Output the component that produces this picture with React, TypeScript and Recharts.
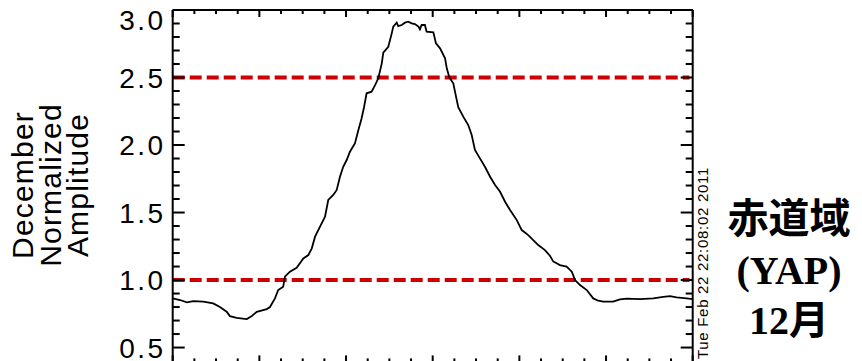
import { LineChart, Line, XAxis, YAxis, ReferenceLine } from 'recharts'

// local time (hours) and normalized amplitude
const HOURS = [
  0.0, 0.34, 0.65, 0.95, 1.41, 1.87, 2.18, 2.49, 2.64, 2.95, 3.42, 3.65, 3.88, 4.34, 4.49, 4.72, 4.87, 5.1, 5.18, 5.41,
  5.72, 6.03, 6.26, 6.42, 6.57, 6.8, 7.03, 7.18, 7.41, 7.57, 7.72, 7.87, 8.03, 8.18, 8.41, 8.57, 8.72, 8.83, 8.95, 9.18,
  9.34, 9.49, 9.65, 9.72, 9.95, 10.11, 10.18, 10.34, 10.41, 10.57, 10.72, 10.87, 11.03, 11.18, 11.34, 11.41, 11.49, 11.64, 11.72, 12.03,
  12.15, 12.34, 12.57, 12.65, 12.77, 12.95, 13.11, 13.18, 13.41, 13.64, 13.8, 13.95, 14.18, 14.41, 14.65, 14.88, 15.11, 15.34, 15.57, 15.88,
  16.11, 16.41, 16.64, 16.87, 17.18, 17.41, 17.57, 17.72, 17.87, 18.18, 18.42, 18.57, 18.8, 19.11, 19.41, 19.64, 19.87, 20.33, 20.64, 20.95,
  21.57, 22.18, 22.64, 22.95, 23.26, 23.72, 24.0,
]
const AMPLITUDE = [
  0.864, 0.852, 0.835, 0.844, 0.84, 0.827, 0.8, 0.765, 0.733, 0.72, 0.711, 0.733, 0.765, 0.785, 0.8, 0.864, 0.926, 0.95, 1.025, 1.062,
  1.09, 1.16, 1.185, 1.235, 1.321, 1.395, 1.469, 1.593, 1.63, 1.667, 1.765, 1.839, 1.889, 1.95, 2.012, 2.111, 2.198, 2.28, 2.383, 2.395,
  2.444, 2.494, 2.605, 2.684, 2.728, 2.827, 2.877, 2.906, 2.881, 2.889, 2.906, 2.913, 2.901, 2.896, 2.877, 2.857, 2.889, 2.889, 2.839, 2.835,
  2.753, 2.716, 2.642, 2.568, 2.501, 2.457, 2.333, 2.28, 2.21, 2.148, 2.074, 1.963, 1.901, 1.839, 1.765, 1.704, 1.654, 1.58, 1.519, 1.444,
  1.37, 1.333, 1.296, 1.259, 1.222, 1.18, 1.136, 1.124, 1.111, 1.1, 1.062, 1.0, 0.963, 0.926, 0.864, 0.847, 0.84, 0.84, 0.857, 0.862,
  0.859, 0.864, 0.876, 0.881, 0.872, 0.864, 0.859,
]

const X_TICKS = [0, 1, 2, 3, 4, 5, 6, 7, 8, 9, 10, 11, 12, 13, 14, 15, 16, 17, 18, 19, 20, 21, 22, 23, 24]
const Y_TICKS = [
  0.5, 0.6, 0.7, 0.8, 0.9, 1.0, 1.1, 1.2, 1.3, 1.4, 1.5, 1.6, 1.7, 1.8, 1.9, 2.0, 2.1, 2.2, 2.3, 2.4, 2.5, 2.6, 2.7,
  2.8, 2.9, 3.0,
]
const THRESHOLDS = [2.5, 1.0]
const Y_TITLE = ['December', 'Normalized', 'Amplitude']
const STAMP = 'Tue Feb 22 22:08:02 2011'
const SIDE_LABEL = ['赤道域', '(YAP)', '12月']

const data = HOURS.map((h, i) => ({ hour: h, amp: AMPLITUDE[i] }))

const IDL_FONT = "'Liberation Sans', Arial, sans-serif"

const isMajorY = (v: number) => Math.abs(v * 2 - Math.round(v * 2)) < 1e-6
const isMajorX = (v: number) => v % 4 === 0

const LeftTick = (props: any) => {
  const { x, y, payload } = props
  const major = isMajorY(payload.value)
  return (
    <g>
      <line x1={x} y1={y} x2={x + (major ? 12 : 7)} y2={y} stroke="#000" strokeWidth={2} />
      {major && (
        <text
          x={x - 7}
          y={Math.min(Math.max(y, 20), 349) + 10}
          textAnchor="end"
          fontFamily={IDL_FONT}
          fontSize={28}
          letterSpacing={2.5}
          fill="#000"
        >
          {payload.value.toFixed(1)}
        </text>
      )}
    </g>
  )
}

const RightTick = (props: any) => {
  const { x, y, payload } = props
  const major = isMajorY(payload.value)
  return <line x1={x} y1={y} x2={x - (major ? 12 : 7)} y2={y} stroke="#000" strokeWidth={2} />
}

const TopTick = (props: any) => {
  const { x, y, payload } = props
  const major = isMajorX(payload.value)
  return <line x1={x} y1={y} x2={x} y2={y + (major ? 7 : 4)} stroke="#000" strokeWidth={2} />
}

const BottomTick = (props: any) => {
  const { x, y, payload } = props
  const major = isMajorX(payload.value)
  return <line x1={x} y1={y} x2={x} y2={y - (major ? 7 : 4)} stroke="#000" strokeWidth={2} />
}

export default function App() {
  return (
    <div
      style={{
        position: 'absolute',
        left: 0,
        top: 0,
        width: 862,
        height: 361,
        overflow: 'hidden',
        background: '#fff',
      }}
    >
      <LineChart
        width={862}
        height={400}
        data={data}
        margin={{ top: 0, right: 109.3, bottom: 7.6, left: 112.7 }}
      >
        <XAxis
          xAxisId="bottom"
          dataKey="hour"
          type="number"
          domain={[0, 24]}
          ticks={X_TICKS}
          interval={0}
          height={30}
          tickSize={0}
          tickMargin={0}
          tickLine={false}
          axisLine={{ stroke: '#000', strokeWidth: 2 }}
          tick={<BottomTick />}
        />
        <XAxis
          xAxisId="top"
          orientation="top"
          dataKey="hour"
          type="number"
          domain={[0, 24]}
          ticks={X_TICKS}
          interval={0}
          height={10}
          tickSize={0}
          tickMargin={0}
          tickLine={false}
          axisLine={{ stroke: '#000', strokeWidth: 2 }}
          tick={<TopTick />}
        />
        <YAxis
          yAxisId="left"
          type="number"
          domain={[0.39, 3.0]}
          allowDataOverflow
          ticks={Y_TICKS}
          interval={0}
          width={60}
          tickSize={0}
          tickMargin={0}
          tickLine={false}
          axisLine={{ stroke: '#000', strokeWidth: 2 }}
          tick={<LeftTick />}
        />
        <YAxis
          yAxisId="right"
          orientation="right"
          type="number"
          domain={[0.39, 3.0]}
          allowDataOverflow
          ticks={Y_TICKS}
          interval={0}
          width={60}
          tickSize={0}
          tickMargin={0}
          tickLine={false}
          axisLine={{ stroke: '#000', strokeWidth: 2 }}
          tick={<RightTick />}
        />
        {THRESHOLDS.map(t => (
          <ReferenceLine
            key={t}
            xAxisId="bottom"
            yAxisId="left"
            segment={[{ x: 0, y: t }, { x: 23.85, y: t }]}
            stroke="#cc0000"
            strokeWidth={4}
            strokeDasharray="12 5"
          />
        ))}
        <Line
          xAxisId="bottom"
          yAxisId="left"
          type="linear"
          dataKey="amp"
          stroke="#000"
          strokeWidth={1.8}
          dot={false}
          isAnimationActive={false}
        />
      </LineChart>
      <svg
        width={862}
        height={361}
        style={{ position: 'absolute', left: 0, top: 0, pointerEvents: 'none' }}
      >
        {Y_TITLE.map((line, i) => (
          <text
            key={line}
            transform={`translate(${33 + i * 27.5},185) rotate(-90)`}
            textAnchor="middle"
            fontFamily={IDL_FONT}
            fontSize={30}
            letterSpacing={1.2}
            fill="#000"
          >
            {line}
          </text>
        ))}
        <text
          transform="translate(708,359) rotate(-90)"
          fontFamily={IDL_FONT}
          fontSize={15}
          letterSpacing={0.7}
          fill="#000"
        >
          {STAMP}
        </text>
        <text
          x={789}
          y={233}
          textAnchor="middle"
          fontFamily="'Noto Sans CJK JP', sans-serif"
          fontWeight={700}
          fontSize={41}
          fill="#000"
        >
          {SIDE_LABEL[0]}
        </text>
        <text
          x={789}
          y={284}
          textAnchor="middle"
          fontFamily="'Liberation Serif', serif"
          fontWeight={700}
          fontSize={40}
          fill="#000"
        >
          {SIDE_LABEL[1]}
        </text>
        <text
          x={789}
          y={334}
          textAnchor="middle"
          fontFamily="'Liberation Serif', 'Noto Sans CJK JP', serif"
          fontWeight={700}
          fontSize={40}
          fill="#000"
        >
          {SIDE_LABEL[2]}
        </text>
      </svg>
    </div>
  )
}
